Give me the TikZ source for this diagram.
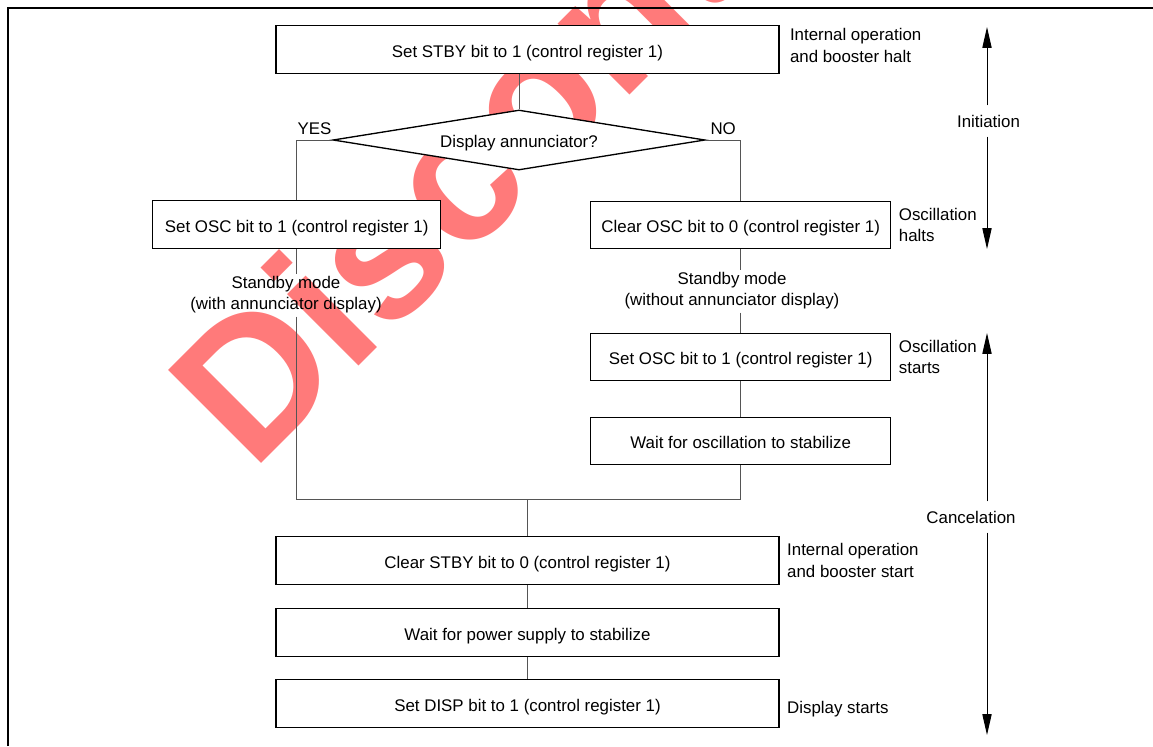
\documentclass[tikz,border=0pt]{standalone}
\usepackage{fontspec}
\setmainfont{Liberation Sans}
\usetikzlibrary{positioning,shapes.geometric,arrows.meta}

\definecolor{stamp}{RGB}{255,122,122}
\definecolor{wire}{RGB}{85,85,85}

\tikzset{
  stepbox/.style={draw, line width=0.95pt, fill=white, minimum height=1.19cm, inner sep=2pt,
    text height=11pt, text depth=0pt},
  widebox/.style={stepbox, minimum width=12.575cm},
  leftbox/.style={stepbox, minimum width=7.2cm},
  rightbox/.style={stepbox, minimum width=7.5cm},
  query/.style={diamond, draw, line width=0.95pt, fill=white, aspect=6.2,
    inner sep=0pt, minimum width=9.3cm, minimum height=1.5cm,
    text height=11pt, text depth=0pt},
  note/.style={align=left, inner sep=0pt},
  modelabel/.style={align=center, inner sep=2pt},
  phaselabel/.style={inner xsep=2pt, inner ysep=6.5pt},
  flow/.style={draw=wire, line width=0.6pt},
  span/.style={draw=black, line width=0.7pt, -{Triangle[length=5.2mm,width=2.3mm]}},
  frame/.style={draw=black, line width=1.2pt},
}

\begin{document}
\begin{tikzpicture}[x=0.025cm, y=-0.025cm, font=\fontsize{12}{15}\selectfont]
\useasboundingbox (0,0) rectangle (1153,746);

% stamp behind the chart
\begin{scope}
  \clip (0,0) rectangle (1153,746);
  \node[rotate=45, anchor=base west, inner sep=0pt, text=stamp,
        font=\fontsize{136}{136}\selectfont\bfseries] (stamp) at (252,473) {Discontinued};
\end{scope}

% page frame
\coordinate (corner) at (8,8);
\draw[frame] (8,746) -- (corner) -- (1153,8);

% initiation
\node[widebox] (stby) at (527.5,49.5) {Set STBY bit to 1 (control register 1)};
\node[query] (disp) at (519,140) {Display annunciator?};
\node[leftbox] (oscon) at (296.7,224.5) {Set OSC bit to 1 (control register 1)};
\node[rightbox] (oscoff) at (740.7,225) {Clear OSC bit to 0 (control register 1)};
\node[modelabel] (sbleft) at (286,295) {Standby mode\\(with annunciator display)};
\node[modelabel] (sbright) at (732,291) {Standby mode\\(without annunciator display)};

% cancelation
\node[rightbox] (oscrun) at (740.7,357) {Set OSC bit to 1 (control register 1)};
\node[rightbox] (oscwait) at (740.7,441) {Wait for oscillation to stabilize};
\coordinate (mleft) at (296.7,499);
\coordinate (mright) at (740.7,499);
\node[widebox] (stbyoff) at (527.5,560.5) {Clear STBY bit to 0 (control register 1)};
\node[widebox] (pwrwait) at (527.5,632.5) {Wait for power supply to stabilize};
\node[widebox] (dispon) at (527.5,703.5) {Set DISP bit to 1 (control register 1)};

% connectors
\draw[flow] (stby.south -| disp.north) -- (disp.north);
\draw[flow] (disp.west) -| node[pos=0.25, above] {YES} (oscon.north);
\draw[flow] (disp.east) -| node[pos=0.25, above] {NO} (oscoff.north);
\draw[flow] (oscon.south) -- (oscon.south |- sbleft.north);
\draw[flow] (oscon.south |- sbleft.south) -- (mleft) -- (mright) -- (oscwait.south);
\draw[flow] (oscoff.south) -- (oscoff.south |- sbright.north);
\draw[flow] (oscoff.south |- sbright.south) -- (oscrun.north);
\draw[flow] (oscrun) -- (oscwait);
\draw[flow] (stbyoff.north |- mleft) -- (stbyoff.north);
\draw[flow] (stbyoff) -- (pwrwait);
\draw[flow] (pwrwait) -- (dispon);

% side notes
\node[note, right=0.25cm of stby, yshift=0.1cm] (haltnote) {Internal operation\\and booster halt};
\node[note, right=0.18cm of oscoff] (oschalt) {Oscillation\\halts};
\node[note, right=0.18cm of oscrun] (oscstart) {Oscillation\\starts};
\node[note, right=0.18cm of stbyoff] (startnote) {Internal operation\\and booster start};
\node[note, right=0.18cm of dispon, yshift=-0.14cm] (dispnote) {Display starts};

% phases
\coordinate (inittop) at (987,27);
\coordinate (initbot) at (987,249);
\node[phaselabel] (init) at (988.5,121) {Initiation};
\draw[span] (inittop |- init.north) -- (inittop);
\draw[span] (initbot |- init.south) -- (initbot);
\coordinate (canctop) at (987,333);
\coordinate (cancbot) at (987,735);
\node[phaselabel] (canc) at (971,517) {Cancelation};
\draw[span] (canctop |- canc.north) -- (canctop);
\draw[span] (cancbot |- canc.south) -- (cancbot);
\end{tikzpicture}
\end{document}
